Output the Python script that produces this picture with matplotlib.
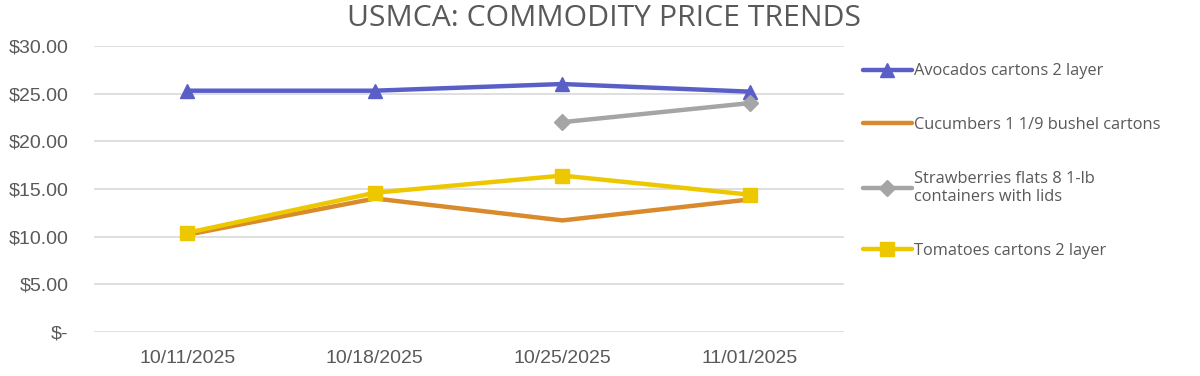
import matplotlib
matplotlib.use("Agg")
import matplotlib.pyplot as plt
from matplotlib.ticker import FuncFormatter

plt.rcParams['font.family'] = ['Open Sans', 'DejaVu Sans']

# data
dates = ["10/11/2025", "10/18/2025", "10/25/2025", "11/01/2025"]
avocados = [25.3, 25.3, 26.0, 25.2]
cucumbers = [10.2, 14.0, 11.7, 13.9]
strawberries = [None, None, 22.0, 24.0]
tomatoes = [10.4, 14.6, 16.4, 14.4]

labels = ["Avocados cartons 2 layer",
          "Cucumbers 1 1/9 bushel cartons",
          "Strawberries flats 8 1-lb\ncontainers with lids",
          "Tomatoes cartons 2 layer"]
colors = ["#5A5FC8", "#D98A2B", "#A5A5A5", "#EDC800"]
markers = ["^", None, "D", "s"]
text_col = "#595959"


def money(v, pos):
    if v == 0:
        return "$-"
    return f"${v:,.2f}"


fig = plt.figure(figsize=(12, 3.76), dpi=100)
ax = fig.add_axes([0.078, 0.117, 0.625, 0.761])

x = list(range(len(dates)))
series = [avocados, cucumbers, strawberries, tomatoes]
for vals, lab, col, mk in zip(series, labels, colors, markers):
    xs = [i for i, v in zip(x, vals) if v is not None]
    ys = [v for v in vals if v is not None]
    ms = 8 if mk == "D" else 10
    ax.plot(xs, ys, color=col, lw=3.2, marker=mk, markersize=ms,
            label=lab, solid_capstyle="round", zorder=3)

ax.set_xlim(-0.5, len(dates) - 0.5)
ax.set_ylim(0, 30)
ax.set_yticks(range(0, 31, 5))
ax.yaxis.set_major_formatter(FuncFormatter(money))
ax.set_xticks(x)
ax.set_xticklabels(dates)
ax.grid(axis="y", color="#D9D9D9", lw=1.2)
ax.set_axisbelow(True)
for s in ax.spines.values():
    s.set_visible(False)
ax.tick_params(axis="y", length=0, labelcolor=text_col, pad=18)
ax.tick_params(axis="x", length=0, labelcolor=text_col, pad=13)
for t in ax.get_xticklabels() + ax.get_yticklabels():
    t.set_fontfamily("Liberation Sans")
    t.set_fontsize(14)

fig.suptitle("USMCA: COMMODITY PRICE TRENDS", x=0.503, y=0.99,
             fontsize=21.7, color=text_col)

leg = ax.legend(loc="upper left", bbox_to_anchor=(1.017, 0.962), frameon=False,
                fontsize=11.8, labelcolor=text_col, handlelength=3,
                handletextpad=0.1, labelspacing=2.3, borderaxespad=0)

fig.savefig("out.png", dpi=100)
